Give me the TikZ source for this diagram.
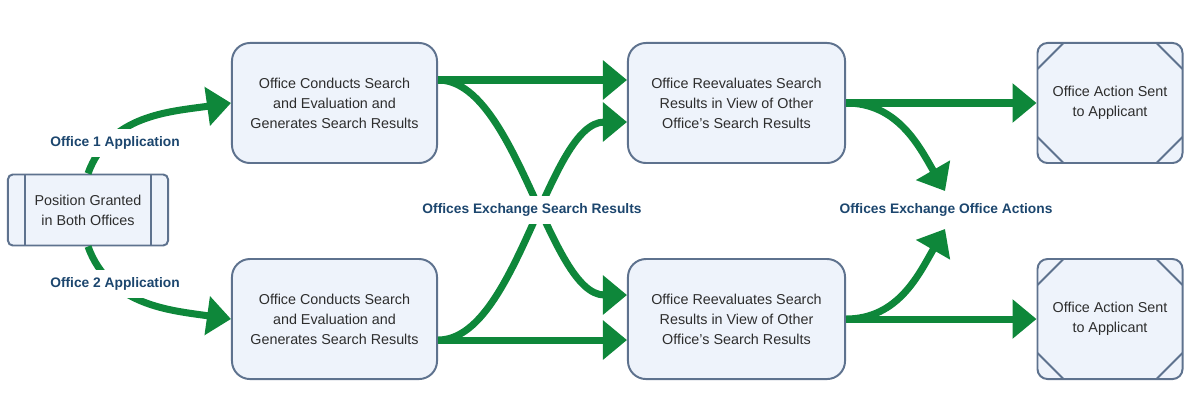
\documentclass[tikz,border=0pt]{standalone}
\usepackage{fontspec}
\setmainfont{Liberation Sans}
\usetikzlibrary{arrows.meta, positioning}
\definecolor{flowgreen}{RGB}{14,135,58}
\definecolor{boxedge}{RGB}{94,114,142}
\definecolor{boxfill}{RGB}{238,243,251}
\definecolor{labelblue}{RGB}{28,70,110}
\definecolor{boxtext}{RGB}{45,45,45}

\begin{document}
\begin{tikzpicture}[
        x=0.025cm, y=-0.025cm,
        box/.style={draw=boxedge, fill=boxfill, line width=1.4pt,
                    rounded corners=0.45cm, minimum height=3cm,
                    align=center, text=boxtext,
                    font=\fontsize{10.2}{14.2}\selectfont},
        startbox/.style={box, rounded corners=0.12cm,
                    minimum width=4cm, minimum height=1.775cm,
                    path picture={
                      \draw[boxedge, line width=1.4pt]
                        ([xshift=0.425cm]path picture bounding box.north west) --
                        ([xshift=0.425cm]path picture bounding box.south west)
                        ([xshift=-0.425cm]path picture bounding box.north east) --
                        ([xshift=-0.425cm]path picture bounding box.south east);}},
        actionbox/.style={box, rounded corners=0.25cm, minimum width=3.625cm,
                    path picture={
                      \draw[boxedge, line width=1.4pt]
                        ([yshift=-0.65cm]path picture bounding box.north west) --
                        ([xshift=0.65cm]path picture bounding box.north west)
                        ([xshift=-0.65cm]path picture bounding box.north east) --
                        ([yshift=-0.65cm]path picture bounding box.north east)
                        ([yshift=0.65cm]path picture bounding box.south west) --
                        ([xshift=0.65cm]path picture bounding box.south west)
                        ([xshift=-0.65cm]path picture bounding box.south east) --
                        ([yshift=0.65cm]path picture bounding box.south east);}},
        flow/.style={draw=flowgreen, line width=5pt,
                    -{Triangle[length=0.6cm, width=0.95cm]}},
        flowlabel/.style={font=\bfseries\fontsize{9.8}{12}\selectfont,
                    text=labelblue, fill=white, inner xsep=2pt, inner ysep=5.5pt}
    ]
        \useasboundingbox (0,0) rectangle (1200,400);

        \node[startbox] (start) at (88,210) {Position Granted\\in Both Offices};
        \node[box, minimum width=5.125cm] (search1) at (334.5,103) {Office Conducts Search\\and Evaluation and\\Generates Search Results};
        \node[box, minimum width=5.125cm, below=2.35cm of search1] (search2) {Office Conducts Search\\and Evaluation and\\Generates Search Results};
        \node[box, minimum width=5.425cm] (review1) at (736.5,103) {Office Reevaluates Search\\Results in View of Other\\Office’s Search Results};
        \node[box, minimum width=5.425cm, below=2.35cm of review1] (review2) {Office Reevaluates Search\\Results in View of Other\\Office’s Search Results};
        \node[actionbox] (action1) at (1110,103) {Office Action Sent\\to Applicant};
        \node[actionbox, below=2.35cm of action1] (action2) {Office Action Sent\\to Applicant};

        \coordinate (merge1) at (945,191);
        \coordinate (merge2) at (945,229);

        \draw[flow] (start.north) to[out=70, in=188] (search1.west);
        \draw[flow] (start.south) to[out=-70, in=172] (search2.west);
        \draw[flow] ([yshift=0.575cm]search1.east) -- ([yshift=0.575cm]review1.west);
        \draw[flow] ([yshift=0.575cm]search1.east) to[out=0, in=180, looseness=0.7] ([yshift=0.6cm]review2.west);
        \draw[flow] ([yshift=-0.525cm]search2.east) -- ([yshift=-0.525cm]review2.west);
        \draw[flow] ([yshift=-0.525cm]search2.east) to[out=0, in=180, looseness=0.7] ([yshift=-0.475cm]review1.west);
        \draw[flow] (review1.east) -- (action1.west);
        \draw[flow] (review1.east) to[out=0, in=120] (merge1);
        \draw[flow] (review2.east) -- (action2.west);
        \draw[flow] (review2.east) to[out=0, in=-120] (merge2);

        \node[flowlabel] (app1) at (115,143) {Office 1 Application};
        \node[flowlabel] (app2) at (115,284) {Office 2 Application};
        \node[flowlabel] (swap1) at (532,210) {Offices Exchange Search Results};
        \node[flowlabel, fill=none] (swap2) at (946,210) {Offices Exchange Office Actions};
    \end{tikzpicture}
\end{document}
